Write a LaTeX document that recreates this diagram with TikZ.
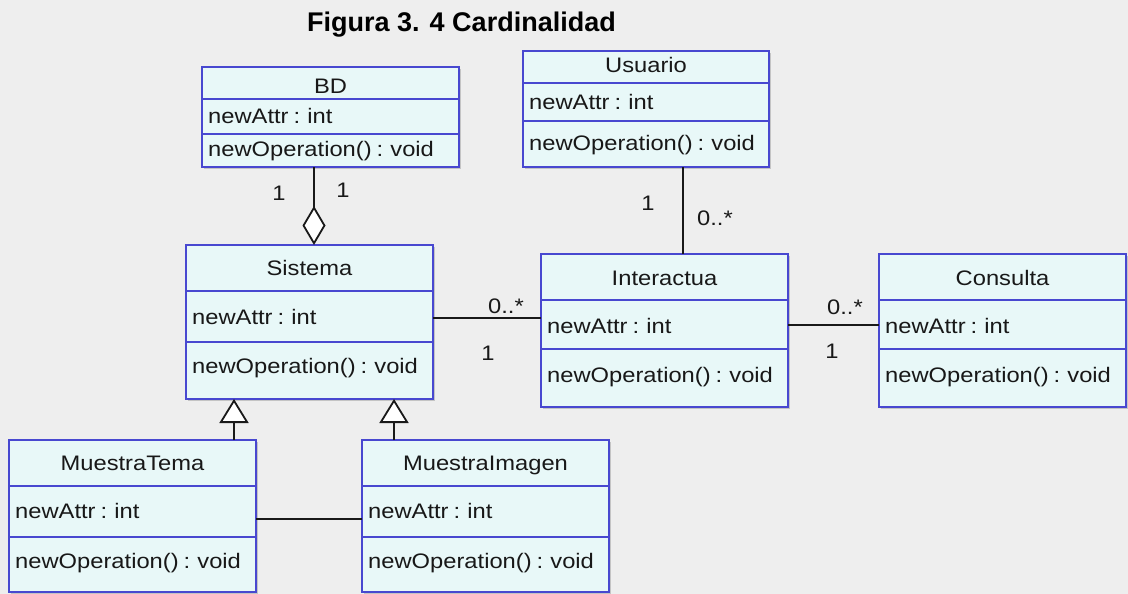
\documentclass[tikz,border=0pt]{standalone}
\usepackage{fontspec}
\setmainfont{Liberation Sans}
\newfontfamily\umlfont[FakeStretch=1.13, WordSpace=0.75]{Liberation Sans}
\usetikzlibrary{arrows.meta,shadows,calc}

\definecolor{bgcol}{RGB}{238,238,238}
\definecolor{clsfill}{RGB}{232,248,248}
\definecolor{clsline}{RGB}{72,72,208}
\definecolor{txt}{RGB}{24,24,24}

\tikzset{
  cls/.style={draw=clsline, fill=clsfill, line width=1.9pt, rectangle,
    inner sep=0pt, outer sep=0pt, anchor=north west,
    drop shadow={shadow xshift=2pt, shadow yshift=-2pt, opacity=.3, fill=black!60}},
  divider/.style={draw=clsline, line width=1.7pt},
  hdr/.style={font=\umlfont\fontsize{21}{21}\selectfont, text=txt, anchor=base, inner sep=0pt},
  member/.style={hdr, anchor=base west, xshift=6pt},
  mult/.style={hdr},
  link/.style={draw=black!90, line width=1.8pt},
}

% class box: name, left, top, right, bottom, first divider, second divider
\newcommand\umlbox[7]{%
  \node[cls, minimum width={#4-#2}, minimum height={#5-#3}] (#1) at (#2,#3) {};
  \draw[divider] (#1.west |- 0,#6) -- (#1.east |- 0,#6);
  \draw[divider] (#1.west |- 0,#7) -- (#1.east |- 0,#7);
}
% class texts: name, header baseline, attribute baseline, operation baseline, title
\newcommand\umltext[5]{%
  \node[hdr] (#1-t) at (#1.north |- 0,#2) {#5};
  \node[member] (#1-a) at (#1.west |- 0,#3) {newAttr : int};
  \node[member] (#1-o) at (#1.west |- 0,#4) {newOperation() : void};
}

\begin{document}
\begin{tikzpicture}[x=1pt, y=-1pt]
  \useasboundingbox (0,0) rectangle (1128,594);
  \fill[bgcol] (0,0) rectangle (1128,594);
  \clip (0,0) rectangle (1128,594);

  \node[font=\bfseries\fontsize{27}{27}\selectfont, anchor=base west, inner sep=0pt] (title)
    at (307,32) {Figura 3. 4 Cardinalidad};

  % classes
  \umlbox{bd}{202}{67}{459}{167}{99}{134}
  \umltext{bd}{93}{123}{157}{BD}
  \umlbox{usu}{523}{51}{769}{167}{83}{121}
  \umltext{usu}{73}{110}{150}{Usuario}
  \umlbox{sis}{186}{245}{433}{399}{291}{342}
  \umltext{sis}{275}{324}{373}{Sistema}
  \umlbox{int}{541}{254}{788}{407}{300}{349}
  \umltext{int}{285}{333}{382}{Interactua}
  \umlbox{con}{879}{254}{1126}{407}{300}{349}
  \umltext{con}{285}{333}{382}{Consulta}
  \umlbox{mt}{9}{440}{256}{592}{486}{537}
  \umltext{mt}{470}{518}{568}{MuestraTema}
  \umlbox{mi}{362}{440}{609}{592}{486}{537}
  \umltext{mi}{470}{518}{568}{MuestraImagen}

  % connector positions
  \coordinate (aggx) at (314,0);
  \coordinate (usux) at (683,0);
  \coordinate (g1) at (234,0);
  \coordinate (g2) at (394,0);

  % aggregation BD - Sistema
  \draw[link, -{Diamond[fill=white, length=39pt, width=23pt]}] (bd.south -| aggx) -- (sis.north -| aggx);
  % associations
  \draw[link] (usu.south -| usux) -- (int.north -| usux);
  \draw[link] (sis.east |- 0,318) -- (int.west |- 0,318);
  \draw[link] (int.east |- 0,325) -- (con.west |- 0,325);
  \draw[link] (mt.east |- 0,519) -- (mi.west |- 0,519);
  % generalizations
  \draw[link, -{Triangle[fill=white, length=24pt, width=29pt]}] (mt.north -| g1) -- (sis.south -| g1);
  \draw[link, -{Triangle[fill=white, length=24pt, width=29pt]}] (mi.north -| g2) -- (sis.south -| g2);

  % multiplicities
  \node[mult] (m-bd1) at (279,200) {1};
  \node[mult] (m-bd2) at (343,197) {1};
  \node[mult] (m-usu1) at (648,210) {1};
  \node[mult] (m-usu2) at (715,225) {0..*};
  \node[mult] (m-si1) at (506,313) {0..*};
  \node[mult] (m-si2) at (488,360) {1};
  \node[mult] (m-ic1) at (845,314) {0..*};
  \node[mult] (m-ic2) at (832,358) {1};
\end{tikzpicture}
\end{document}
